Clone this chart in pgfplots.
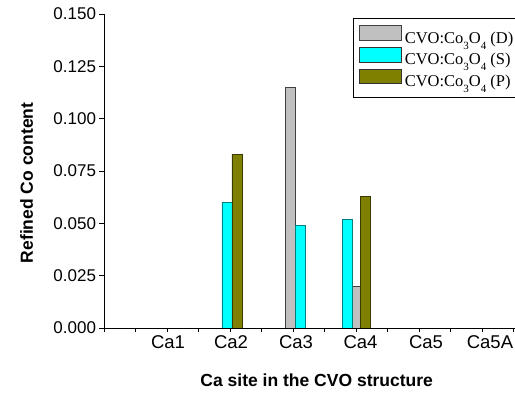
\documentclass[border=0pt]{standalone}
\usepackage{pgfplots}
\pgfplotsset{compat=1.18}
\usepackage{fontspec}
\setmainfont{Liberation Sans}
\newfontfamily\legfont{Liberation Serif}
\definecolor{cgray}{RGB}{192,192,192}
\definecolor{ccyan}{RGB}{0,255,255}
\definecolor{colive}{RGB}{128,128,0}
\newcommand{\sub}[1]{\raisebox{-6pt}{\fontsize{11}{12}\selectfont #1}}
\begin{document}
\begin{tikzpicture}
\begin{axis}[
  at={(0pt,0pt)}, anchor=south west,
  scale only axis, width=415.8pt, height=314pt,
  xmin=0, xmax=6.6, ymin=0, ymax=0.150,
  axis x line*=bottom, axis y line*=left,
  axis line style={line width=0.9pt, -},
  tick align=outside,
  major tick length=4.5pt, minor tick length=4.5pt,
  tick style={line width=0.9pt, black},
  xtick={1,2,3,4,5,6},
  xticklabels={\hspace*{2pt}Ca1,\hspace*{2pt}Ca2,\hspace*{6pt}Ca3,\hspace*{9pt}\raisebox{2pt}{Ca4},\hspace*{14pt}Ca5,\hspace*{16pt}Ca5A},
  minor xtick={0,0.5,1.5,2.5,3.5,4.5,5.5,6.5},
  ytick={0,0.025,0.05,0.075,0.1,0.125,0.15},
  /pgf/number format/assume math mode=true,
  yticklabel style={/pgf/number format/fixed, /pgf/number format/fixed zerofill, /pgf/number format/precision=3, font=\fontsize{17}{20}\selectfont},
  xticklabel style={font=\fontsize{18.5}{22}\selectfont},
  xlabel={Ca site in the CVO structure}, ylabel={Refined Co content},
  every axis x label/.style={at={([yshift=-52pt]axis description cs:0.5115,0)}, anchor=center, font=\bfseries\fontsize{17.5}{21}\selectfont},
  every axis y label/.style={at={([xshift=-77.3pt]axis description cs:0,0.462)}, anchor=center, rotate=90, font=\bfseries\fontsize{17.5}{21}\selectfont},
  legend style={at={(0.599,0.987)}, anchor=north west, draw=black, line width=0.8pt, fill=white,
    font=\legfont\fontsize{16.5}{20}\selectfont, inner xsep=6pt, inner ysep=7pt, row sep=0.5pt,
    nodes={inner xsep=2.5pt, inner ysep=2pt}},
  legend cell align=left,
  bar width=0.159,
]
\addplot[ybar, bar shift=0pt, fill=cgray, draw=black!75, line width=0.8pt,
  legend image code/.code={\draw[fill=cgray, draw=black!75, line width=0.8pt] (0pt,-2.3pt) rectangle (42pt,12.3pt);}]
  coordinates {(2.960,0.115) (4.005,0.020)};
\addlegendentry{CVO:Co\sub{3}O\sub{4} (D)}
\addplot[ybar, bar shift=0pt, fill=ccyan, draw=ccyan!50!black, line width=0.8pt,
  legend image code/.code={\draw[fill=ccyan, draw=black!80, line width=0.8pt] (0pt,-2.3pt) rectangle (42pt,12.3pt);}]
  coordinates {(1.952,0.060) (3.113,0.049) (3.862,0.052)};
\addlegendentry{CVO:Co\sub{3}O\sub{4} (S)}
\addplot[ybar, bar shift=0pt, fill=colive, draw=colive!45!black, line width=0.8pt,
  legend image code/.code={\draw[fill=colive, draw=black!80, line width=0.8pt] (0pt,-2.3pt) rectangle (42pt,12.3pt);}]
  coordinates {(2.111,0.083) (4.156,0.063)};
\addlegendentry{CVO:Co\sub{3}O\sub{4} (P)}
\end{axis}
\pgfresetboundingbox
\useasboundingbox (-104pt,-67pt) rectangle (411pt,328pt);
\end{tikzpicture}
\end{document}
